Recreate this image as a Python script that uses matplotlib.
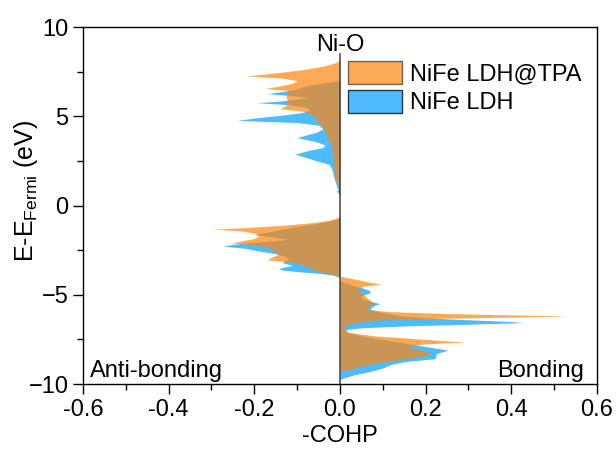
import matplotlib as m
m.use("Agg")
import matplotlib.pyplot as plt
from matplotlib.patches import Patch
from matplotlib.ticker import MultipleLocator

plt.rcParams['font.family'] = ['Liberation Sans', 'DejaVu Sans']
plt.rcParams['mathtext.fontset'] = 'custom'
plt.rcParams['mathtext.rm'] = 'Liberation Sans'
plt.rcParams['mathtext.it'] = 'Liberation Sans'

# energy (eV) and -COHP for NiFe LDH@TPA (orange)
tpa_e = [8.15, 8.0, 7.8, 7.6, 7.4, 7.25, 7.15, 7.0, 6.85, 6.7, 6.55, 6.45, 6.3, 6.0,
         5.75, 5.55, 5.42, 5.3, 5.15, 5.0, 4.8, 4.6, 4.4, 4.2, 3.8, 3.4, 3.0, 2.6,
         2.2, 1.8, 1.5, 1.3, 1.0, 0.8,
         -0.5, -0.65, -0.8, -0.95, -1.1, -1.25, -1.33, -1.42, -1.55, -1.7, -1.85,
         -2.0, -2.1, -2.2, -2.35, -2.5, -2.7, -2.9, -3.05, -3.15, -3.3, -3.5, -3.7,
         -3.85, -3.95, -4.0, -4.15, -4.3, -4.42, -4.5, -4.65, -4.85, -5.1, -5.3,
         -5.5, -5.7, -5.85, -5.95, -6.05, -6.15, -6.19, -6.25, -6.33, -6.42, -6.55,
         -6.7, -6.9, -7.1, -7.3, -7.5, -7.65, -7.75, -7.9, -8.05, -8.25, -8.4,
         -8.6, -8.8, -9.0, -9.2, -9.3]
tpa_v = [0.0, -0.01, -0.04, -0.09, -0.16, -0.22, -0.14, -0.10, -0.11, -0.14, -0.175,
         -0.12, -0.125, -0.125, -0.12, -0.13, -0.14, -0.09, -0.07, -0.06, -0.055,
         -0.05, -0.04, -0.035, -0.03, -0.02, -0.018, -0.016, -0.015, -0.012,
         -0.012, -0.006, -0.003, 0.0,
         0.0, -0.003, -0.02, -0.06, -0.13, -0.23, -0.297, -0.23, -0.20, -0.19,
         -0.20, -0.235, -0.253, -0.20, -0.165, -0.16, -0.14, -0.16, -0.17, -0.12,
         -0.09, -0.07, -0.05, -0.02, -0.005, 0.01, 0.04, 0.07, 0.097, 0.06, 0.04,
         0.05, 0.06, 0.07, 0.08, 0.06, 0.07, 0.12, 0.25, 0.45, 0.533, 0.40, 0.20,
         0.08, 0.04, 0.015, 0.01, 0.02, 0.08, 0.20, 0.29, 0.20, 0.155, 0.18,
         0.215, 0.20, 0.15, 0.09, 0.05, 0.02, 0.0]

# energy (eV) and -COHP for NiFe LDH (blue)
ldh_e = [7.0, 6.9, 6.75, 6.55, 6.4, 6.27, 6.15, 6.05, 5.95, 5.85, 5.76, 5.65, 5.5,
         5.35, 5.2, 5.05, 4.9, 4.77, 4.65, 4.5, 4.3, 4.1, 3.95, 3.8, 3.6, 3.4,
         3.25, 3.1, 2.88, 2.7, 2.5, 2.3, 2.0, 1.7, 1.4, 1.1, 0.9, 0.8, 0.6,
         -0.7, -0.9, -1.1, -1.3, -1.5, -1.63, -1.75, -1.9, -2.0, -2.15, -2.27,
         -2.4, -2.55, -2.7, -2.85, -3.0, -3.2, -3.35, -3.5, -3.6, -3.7, -3.8,
         -3.9, -4.05, -4.2, -4.4, -4.6, -4.76, -4.9, -5.05, -5.2, -5.35, -5.5,
         -5.6, -5.8, -6.0, -6.2, -6.35, -6.5, -6.56, -6.65, -6.75, -6.85, -6.95,
         -7.1, -7.3, -7.5, -7.7, -7.9, -8.1, -8.3, -8.58, -8.75, -8.9, -9.1,
         -9.3, -9.5, -9.7, -9.8]
ldh_v = [0.0, -0.03, -0.07, -0.10, -0.13, -0.17, -0.11, -0.075, -0.10, -0.14,
         -0.195, -0.12, -0.08, -0.07, -0.09, -0.14, -0.20, -0.24, -0.10, -0.05,
         -0.04, -0.055, -0.08, -0.10, -0.06, -0.035, -0.04, -0.07, -0.105, -0.08,
         -0.054, -0.025, -0.018, -0.016, -0.012, -0.008, -0.005, -0.008, 0.0,
         0.0, -0.03, -0.08, -0.13, -0.17, -0.20, -0.16, -0.12, -0.17, -0.24,
         -0.274, -0.22, -0.19, -0.15, -0.13, -0.12, -0.136, -0.11, -0.14, -0.14,
         -0.10, -0.05, -0.015, 0.0, 0.0, 0.02, 0.05, 0.07, 0.07, 0.05, 0.05, 0.07,
         0.093, 0.08, 0.07, 0.10, 0.15, 0.25, 0.40, 0.428, 0.30, 0.15, 0.05,
         0.015, 0.015, 0.05, 0.10, 0.15, 0.20, 0.252, 0.225, 0.222, 0.15, 0.12,
         0.10, 0.07, 0.03, 0.005, 0.0]

labels = ['NiFe LDH@TPA', 'NiFe LDH']
orange = '#FF850D'
blue = '#4CBBFF'
fs = 17

fig = plt.figure(figsize=(6.16, 4.57), dpi=100)
ax = fig.add_axes([0.1347, 0.1597, 0.8344, 0.7812])

ax.fill_betweenx(ldh_e, 0, ldh_v, color=blue, lw=0)
ax.fill_betweenx(tpa_e, 0, tpa_v, color=orange, alpha=0.7, lw=0)
# zero line stops just under the Ni-O label
ax.axvline(0, ymax=0.925, color='#404040', lw=1.1)

ax.set_xlim(-0.6, 0.6)
ax.set_ylim(-10, 10)
ax.xaxis.set_major_locator(MultipleLocator(0.2))
ax.xaxis.set_minor_locator(MultipleLocator(0.1))
ax.yaxis.set_major_locator(MultipleLocator(5))
ax.yaxis.set_minor_locator(MultipleLocator(2.5))
ax.tick_params(which='major', direction='out', length=7, width=1, labelsize=fs)
ax.tick_params(which='minor', direction='out', length=4, width=1)
ax.set_xticklabels([f'{v:.1f}' for v in ax.get_xticks()])
for s in ax.spines.values():
    s.set_linewidth(1)

ax.set_xlabel('-COHP', fontsize=fs, labelpad=3)
ax.set_ylabel(r'E-E$_{\mathrm{Fermi}}$ (eV)', fontsize=18)
ax.yaxis.set_label_coords(-0.084, 0.54)

ax.text(0, 9, 'Ni-O', ha='center', va='center', fontsize=fs)
ax.text(-0.584, -9.25, 'Anti-bonding', ha='left', va='center', fontsize=fs)
ax.text(0.57, -9.25, 'Bonding', ha='right', va='center', fontsize=fs)

handles = [Patch(facecolor=orange, alpha=0.7, edgecolor='#333333', lw=1),
           Patch(facecolor=blue, edgecolor='#333333', lw=1)]
ax.legend(handles, labels, loc='upper left', bbox_to_anchor=(0.515, 0.905),
          frameon=False, fontsize=fs, handlelength=2.3, handleheight=1.1,
          handletextpad=0.35, labelspacing=0.2, borderpad=0, borderaxespad=0)

fig.savefig('out.png', dpi=100)
